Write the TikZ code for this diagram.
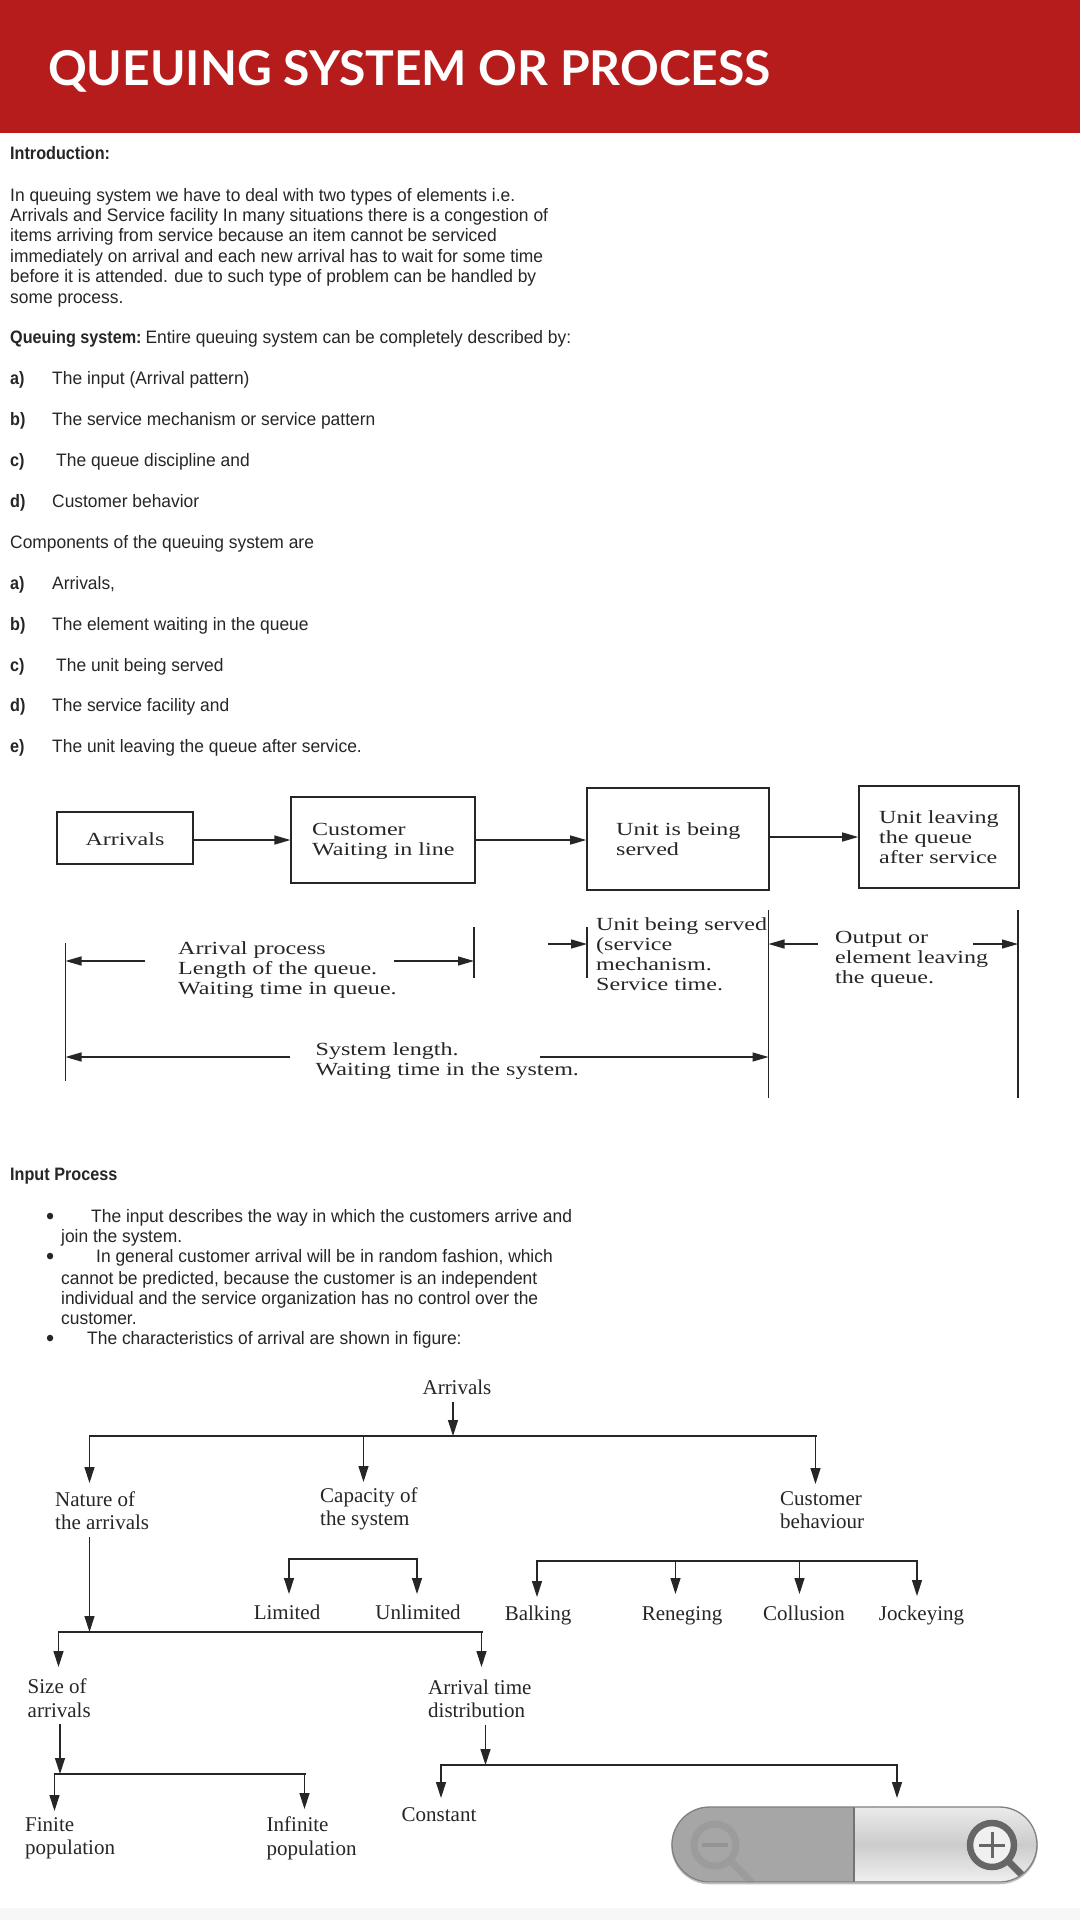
\documentclass[tikz,border=0pt]{standalone}
\usepackage{fontspec}
\setmainfont{Liberation Sans}[FakeStretch=0.967,BoldFeatures={FakeStretch=0.9}]
\newfontfamily\figa[FakeStretch=1.3]{Liberation Serif}
\newfontfamily\figb{Liberation Serif}
\newfontfamily\titlefont{Lato}
\usetikzlibrary{arrows.meta,calc}
\definecolor{banner}{HTML}{B61C1C}
\definecolor{ink}{HTML}{262626}
\definecolor{figink}{HTML}{262626}
\tikzset{
  body/.style={anchor=west,inner sep=0pt,align=left,text=ink,font=\fontsize{18}{20.4}\selectfont},
  line/.style={anchor=base west,inner sep=0pt,text=ink,font=\fontsize{18}{20.4}\selectfont},
  dot/.style={anchor=base west,inner sep=0pt,text=ink,font=\fontsize{24}{24}\selectfont},
  boxa/.style={draw=figink,line width=1.6pt,inner sep=0pt,minimum width=#1},
  lblA/.style={anchor=west,inner sep=0pt,align=left,text=figink,font=\figa\fontsize{18.5}{20}\selectfont},
  lblB/.style={anchor=west,inner xsep=0pt,inner ysep=7pt,align=left,text=figink,font=\figb\fontsize{21}{23.5}\selectfont},
  tipA/.style={-{Stealth[length=16pt,width=9pt,inset=0pt]},line width=1.3pt,figink},
  tipB/.style={-{Stealth[length=16pt,width=10pt,inset=0pt]},line width=1.2pt,figink},
  bus/.style={line width=2pt,figink,line cap=rect},
  rail/.style={line width=1.3pt,figink}
}
\begin{document}
\begin{tikzpicture}[x=1pt,y=-1pt]
\useasboundingbox (0,0) rectangle (1080,1920);
\fill[white] (0,0) rectangle (1080,1920);
\fill[banner] (0,0) rectangle (1080,133);
\fill[black!3] (0,1908) rectangle (1080,1920);

% Page heading and running text
\node[anchor=west,inner sep=0pt,text=white,font=\titlefont\bfseries\fontsize{48}{50}\selectfont] (title) at (48,71) {QUEUING SYSTEM OR PROCESS};
\node[line] (intro) at (10,159.5) {\textbf{Introduction:}};
\node[body] (para) at (10,247.5) {In queuing system we have to deal with two types of elements i.e.\\Arrivals and Service facility In many situations there is a congestion of\\items arriving from service because an item cannot be serviced\\immediately on arrival and each new arrival has to wait for some time\\before it is attended. due to such type of problem can be handled by\\some process.};
\node[line] (qs) at (10,343.5) {\textbf{Queuing system:}\hspace{-2.5pt} Entire queuing system can be completely described by:};
\node[line] (la) at (10,384.5) {\textbf{a)}};
\node[line] (ta) at (52,384.5) {The input (Arrival pattern)};
\node[line] (lb) at (10,425.5) {\textbf{b)}};
\node[line] (tb) at (52,425.5) {The service mechanism or service pattern};
\node[line] (lc) at (10,466.5) {\textbf{c)}};
\node[line] (tc) at (56,466.5) {The queue discipline and};
\node[line] (ld) at (10,507.5) {\textbf{d)}};
\node[line] (td) at (52,507.5) {Customer behavior};
\node[line] (comp) at (10,548.5) {Components of the queuing system are};
\node[line] (ma) at (10,589.5) {\textbf{a)}};
\node[line] (na) at (52,589.5) {Arrivals,};
\node[line] (mb) at (10,630.5) {\textbf{b)}};
\node[line] (nb) at (52,630.5) {The element waiting in the queue};
\node[line] (mc) at (10,671.5) {\textbf{c)}};
\node[line] (nc) at (56,671.5) {The unit being served};
\node[line] (md) at (10,711.5) {\textbf{d)}};
\node[line] (nd) at (52,711.5) {The service facility and};
\node[line] (me) at (10,752.5) {\textbf{e)}};
\node[line] (ne) at (52,752.5) {The unit leaving the queue after service.};

% Flow of a unit through the system
\node[boxa=136.5pt,minimum height=52pt] (arr) at (125,838) {};
\node[boxa=183.5pt,minimum height=86pt] (cust) at (383,840) {};
\node[boxa=182pt,minimum height=102pt] (unit) at (678,839) {};
\node[boxa=160pt,minimum height=102pt] (leave) at (939,837) {};
\node[lblA,anchor=center] (arrT) at (125,839) {Arrivals};
\node[lblA] (custT) at (312,841) {Customer\\Waiting in line};
\node[lblA] (unitT) at (616,839) {Unit is being\\served};
\node[lblA] (leaveT) at (879,837) {Unit leaving\\the queue\\after service};
\draw[tipA] (arr.east |- cust.west) -- (cust.west);
\draw[tipA] (cust.east) -- (cust.east -| unit.west);
\draw[tipA] (unit.east |- leave.west) -- (leave.west);

% Measures of each stage, between vertical rails
\coordinate (r1t) at (65.5,943);   \coordinate (r1b) at (65.5,1081);
\coordinate (r2t) at (474,927);    \coordinate (r2b) at (474,978);
\coordinate (r3t) at (587,927);    \coordinate (r3b) at (587,978);
\coordinate (r4t) at (768.5,910);  \coordinate (r4b) at (768.5,1098);
\coordinate (r5t) at (1018,910);   \coordinate (r5b) at (1018,1098);
\draw[rail] (r1t) -- (r1b);
\draw[rail] (r2t) -- (r2b);
\draw[rail] (r3t) -- (r3b);
\draw[rail] (r4t) -- (r4b);
\draw[rail] (r5t) -- (r5b);
\node[lblA] (procT) at (178,970.5) {Arrival process\\Length of the queue.\\Waiting time in queue.};
\node[lblA] (servT) at (596,954) {Unit being served\\(service\\mechanism.\\Service time.};
\node[lblA] (outT) at (835,959) {Output or\\element leaving\\the queue.};
\node[lblA] (sysT) at (315.5,1061) {System length.\\Waiting time in the system.};
\coordinate (pl) at (145,961); \coordinate (pr) at (394,961);
\coordinate (sl) at (547.5,944);
\coordinate (ol) at (817.5,944); \coordinate (or) at (973,944);
\coordinate (yl) at (290,1057); \coordinate (yr) at (540,1057);
\draw[tipA] (pl) -- (pl -| r1t);
\draw[tipA] (pr) -- (pr -| r2t);
\draw[tipA] (sl) -- (sl -| r3t);
\draw[tipA] (ol) -- (ol -| r4t);
\draw[tipA] (or) -- (or -| r5t);
\draw[tipA] (yl) -- (yl -| r1t);
\draw[tipA] (yr) -- (yr -| r4t);

% Input process notes
\node[line] (inp) at (10,1180.5) {\textbf{Input Process}};
\node[dot] (b1) at (46,1224) {•};
\node[line] (i1) at (91,1222.5) {The input describes the way in which the customers arrive and};
\node[line] (i1b) at (61,1242.5) {join the system.};
\node[dot] (b2) at (46,1264) {•};
\node[line] (i2) at (96,1262.5) {In general customer arrival will be in random fashion, which};
\node[body] (i2b) at (61,1298) {cannot be predicted, because the customer is an independent\\individual and the service organization has no control over the\\customer.};
\node[dot] (b3) at (46,1346) {•};
\node[line] (i3) at (87,1344.5) {The characteristics of arrival are shown in figure:};

% Characteristics of arrivals, as a tree
\node[lblB,anchor=center] (top) at (457,1387) {Arrivals};
\node[lblB] (nat) at (55,1510.5) {Nature of\\the arrivals};
\node[lblB] (cap) at (320,1509) {Capacity of\\the system};
\node[lblB] (cb) at (780,1510) {Customer\\behaviour};
\node[lblB,anchor=base] (lim) at (287,1619) {Limited};
\node[lblB,anchor=base] (unl) at (418,1619) {Unlimited};
\node[lblB,anchor=base] (bal) at (538,1620) {Balking};
\node[lblB,anchor=base] (ren) at (682,1620) {Reneging};
\node[lblB,anchor=base] (col) at (804,1620) {Collusion};
\node[lblB,anchor=base] (joc) at (921.5,1620) {Jockeying};
\node[lblB] (size) at (27.5,1698) {Size of\\arrivals};
\node[lblB] (atd) at (428,1699) {Arrival time\\distribution};
\node[lblB] (fin) at (25,1838.5) {Finite\\population};
\node[lblB] (inf) at (266.5,1838.5) {Infinite\\population};
\node[lblB] (con) at (401.5,1815) {Constant};

% Horizontal bars of the tree, with their end tips
\coordinate (a0) at (89.5,1436); \coordinate (a1) at (453,1436); \coordinate (a2) at (363.5,1436); \coordinate (a3) at (815.5,1436);
\coordinate (a0t) at (89.5,1483); \coordinate (a2t) at (363.5,1482); \coordinate (a3t) at (815.5,1484);
\coordinate (c0) at (289,1559); \coordinate (c1) at (417,1559);
\coordinate (c0t) at (289,1594); \coordinate (c1t) at (417,1594);
\coordinate (d0) at (537,1561); \coordinate (d1) at (675.5,1561); \coordinate (d2) at (799.5,1561); \coordinate (d3) at (917,1561);
\coordinate (d0t) at (537,1597); \coordinate (d1t) at (675.5,1594); \coordinate (d2t) at (799.5,1594); \coordinate (d3t) at (917,1596);
\coordinate (e0) at (58.5,1632); \coordinate (e1) at (89.5,1632); \coordinate (e2) at (481.5,1632);
\coordinate (e0t) at (58.5,1667); \coordinate (e2t) at (481.5,1667);
\coordinate (f0) at (54.5,1774); \coordinate (f1) at (60,1774); \coordinate (f2) at (304.5,1774);
\coordinate (f0t) at (54.5,1811); \coordinate (f2t) at (304.5,1809);
\coordinate (g0) at (441,1765); \coordinate (g1) at (485.5,1765); \coordinate (g2) at (897,1765);
\coordinate (g0t) at (441,1798); \coordinate (g2t) at (897,1798);

\draw[bus] (a0) -- (a3);
\draw[bus] (c0) -- (c1);
\draw[bus] (d0) -- (d3);
\draw[bus] (e0) -- (e2);
\draw[bus] (f0) -- (f2);
\draw[bus] (g0) -- (g2);

\draw[tipB] (a1 |- top.south) -- (a1);
\draw[tipB] (a0) -- (a0t);
\draw[tipB] (a2) -- (a2t);
\draw[tipB] (a3) -- (a3t);
\draw[tipB] (e1 |- nat.south) -- (e1);
\draw[tipB] (c0) -- (c0t);
\draw[tipB] (c1) -- (c1t);
\draw[tipB] (d0) -- (d0t);
\draw[tipB] (d1) -- (d1t);
\draw[tipB] (d2) -- (d2t);
\draw[tipB] (d3) -- (d3t);
\draw[tipB] (e0) -- (e0t);
\draw[tipB] (e2) -- (e2t);
\draw[tipB] (f1 |- size.south) -- (f1);
\draw[tipB] (g1 |- atd.south) -- (g1);
\draw[tipB] (f0) -- (f0t);
\draw[tipB] (f2) -- (f2t);
\draw[tipB] (g0) -- (g0t);
\draw[tipB] (g2) -- (g2t);

% Zoom control
\fill[black!45] (873,1807.5) circle (1.2pt) (877,1807.5) circle (1pt) (910,1807.5) circle (1.2pt);
\draw[black!25,line width=1.5pt,rounded corners=37.5pt] (672,1808.5) rectangle (1037,1883.5);
\begin{scope}
  \clip[rounded corners=37.5pt] (672,1807) rectangle (1037,1882);
  \fill[black!35] (672,1807) rectangle (854,1882);
  \shade[top color=black!8,bottom color=black!6,middle color=black!20] (854,1807) rectangle (1037,1882);
  \draw[black!39,line width=7pt] (715,1845) circle (21);
  \draw[black!39,line width=7pt] (730,1860) -- (753,1884);
  \fill[black!42] (702,1843) rectangle (728,1847);
  \fill[black!6] (992,1845) circle (21);
  \draw[black!60,line width=6.5pt] (992,1845) circle (22);
  \draw[black!60,line width=7pt] (1008,1861) -- (1030,1883);
  \fill[black!60] (979,1843.5) rectangle (1005,1846.5);
  \fill[black!60] (990.5,1832) rectangle (993.5,1858);
\end{scope}
\draw[black!55,line width=1.2pt] (854,1807) -- (854,1882);
\draw[black!50,line width=1.3pt,rounded corners=37.5pt] (672,1807) rectangle (1037,1882);
\end{tikzpicture}
\end{document}
